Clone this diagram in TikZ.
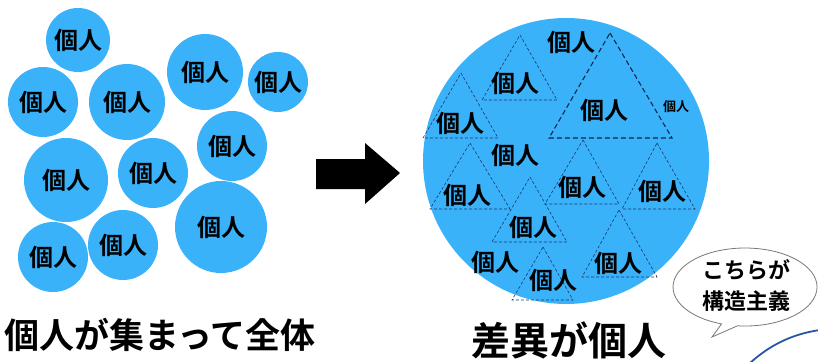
\documentclass[tikz,border=0pt]{standalone}
\usepackage{fontspec}
\setmainfont{Noto Sans CJK JP}[BoldFont={Noto Sans CJK JP Bold}]
\definecolor{skyb}{RGB}{58,178,250}
\definecolor{navy}{RGB}{25,55,110}
\definecolor{bubgray}{RGB}{120,120,120}
\definecolor{arcblue}{RGB}{40,85,165}
\begin{document}
\begin{tikzpicture}[x=1pt,y=-1pt,
  dot/.style={circle,fill=skyb,inner sep=0pt,font=\bfseries\fontsize{24}{24}\selectfont},
  lab/.style={inner sep=0pt,font=\bfseries\fontsize{24}{24}\selectfont},
  tri/.style={draw=navy,line width=0.6pt,dash pattern=on 3pt off 2pt},
  bigtri/.style={draw=navy!70!black,line width=1.1pt,dash pattern=on 5pt off 3pt}]
\useasboundingbox (0,0) rectangle (818,361);
% left group
\node[dot,minimum size=64pt] (c1) at (78,40) {個人};
\node[dot,minimum size=70pt] (c2) at (43,102) {個人};
\node[dot,minimum size=76pt] (c3) at (127,102) {個人};
\node[dot,minimum size=76pt] (c4) at (205,72) {個人};
\node[dot,minimum size=60pt] (c5) at (278,82) {個人};
\node[dot,minimum size=70pt] (c6) at (232,146) {個人};
\node[dot,minimum size=84pt] (c7) at (66,180) {個人};
\node[dot,minimum size=70pt] (c8) at (153,173) {個人};
\node[dot,minimum size=92pt] (c9) at (221,227) {個人};
\node[dot,minimum size=70pt] (c10) at (53,257) {個人};
\node[dot,minimum size=70pt] (c11) at (123,245) {個人};
\node[inner sep=0pt,anchor=base,font=\bfseries\fontsize{35}{35}\selectfont] (capL) at (160,348) {個人が集まって全体};
% arrow
\fill[black] (316,159) -- (365,159) -- (365,143) -- (400,173) -- (365,204) -- (365,189) -- (316,189) -- cycle;
% right big circle
\node[circle,fill=skyb,minimum size=286pt,inner sep=0pt] (big) at (566,161) {};
% triangles
\draw[bigtri] (610,33) -- (672,138) -- (549,138) -- cycle;
\draw[tri] (520,35) -- (557,100) -- (482,100) -- cycle;
\draw[tri] (461,73) -- (498,138) -- (423,138);
\draw[tri] (423,138) -- (461,73);
\draw[tri] (470,143) -- (510,209) -- (430,209) -- cycle;
\draw[tri] (583,140) -- (619,204) -- (545,204) -- cycle;
\draw[tri] (657,143) -- (695,209) -- (622,209) -- cycle;
\draw[tri] (530,177) -- (567,242) -- (492,242) -- cycle;
\draw[tri] (619,210) -- (657,277) -- (582,277) -- cycle;
\draw[tri] (543,247) -- (573,300) -- (512,300) -- cycle;
% labels
\node[lab] (r1) at (571,42) {個人};
\node[lab] (r2) at (515,83) {個人};
\node[lab] (r3) at (604,110) {個人};
\node[inner sep=0pt,font=\bfseries\fontsize{13}{13}\selectfont] (r4) at (676,107) {個人};
\node[lab] (r5) at (460,123) {個人};
\node[lab] (r6) at (515,155) {個人};
\node[lab] (r7) at (467,195) {個人};
\node[lab] (r8) at (582,187) {個人};
\node[lab] (r9) at (662,191) {個人};
\node[lab] (r10) at (533,227) {個人};
\node[lab] (r11) at (495,262) {個人};
\node[lab] (r12) at (553,280) {個人};
\node[lab] (r13) at (618,263) {個人};
\node[inner sep=0pt,anchor=base,font=\bfseries\fontsize{39}{39}\selectfont] (capR) at (569,355) {差異が個人};
% speech bubble
\draw[bubgray,fill=white,line width=0.8pt] (737.5,325.8) arc[start angle=96,end angle=-251,x radius=72,y radius=39] -- (712,337) -- cycle;
\node[inner sep=0pt,align=center,font=\bfseries\fontsize{22}{31}\selectfont] (bub) at (746,285) {こちらが\\構造主義};
% blue arc
\draw[arcblue,line width=1.8pt] (750,363) .. controls (770,345) and (792,334) .. (820,330);
\end{tikzpicture}
\end{document}
